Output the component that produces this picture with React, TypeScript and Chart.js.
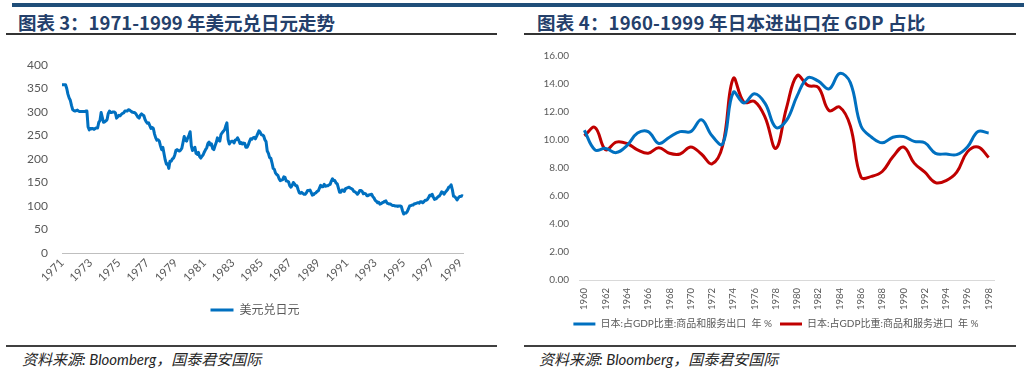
import React, { useEffect, useRef } from 'react';
import { Chart, registerables } from 'chart.js';

Chart.register(...registerables);

// ---------- Chart 3: USD/JPY monthly, Apr 1971 - Jun 1999 ----------
const usdStartYear = 1971;
const usdStartMonth = 4;
const usdJpyMonthly: number[] = [
  358, 358, 358, 358, 350, 338, 330, 325, 314, // 1971 (Apr-Dec)
  305, 303, 302, 303, 304, 302, 301, 301, 301, 301, 301, 302, // 1972
  302, 268, 262, 265, 264, 265, 263, 265, 266, 266, 278, 282, // 1973
  299, 288, 278, 279, 281, 284, 297, 302, 299, 299, 300, 300, // 1974
  298, 287, 290, 293, 292, 295, 297, 298, 302, 302, 302, 305, // 1975
  304, 302, 300, 299, 299, 297, 293, 289, 287, 293, 296, 294, // 1976
  292, 284, 279, 276, 277, 271, 265, 267, 265, 253, 245, 240, // 1977
  241, 238, 228, 220, 225, 211, 198, 189, 190, 180, 195, 195, // 1978
  200, 202, 208, 218, 220, 218, 217, 219, 223, 235, 248, 240, // 1979
  238, 245, 250, 258, 228, 218, 222, 225, 212, 210, 214, 205, // 1980
  202, 206, 209, 215, 220, 224, 233, 236, 230, 232, 222, 220, // 1981
  228, 235, 245, 240, 238, 252, 256, 259, 262, 270, 277, 242, // 1982
  232, 236, 238, 238, 234, 240, 241, 245, 240, 233, 235, 232, // 1983
  234, 233, 225, 225, 230, 237, 243, 242, 245, 246, 243, 248, // 1984
  254, 260, 257, 252, 251, 249, 241, 237, 217, 212, 203, 202, // 1985
  192, 180, 178, 170, 167, 165, 158, 154, 155, 156, 162, 161, // 1986
  153, 153, 151, 143, 140, 144, 150, 147, 143, 143, 135, 128, // 1987
  127, 129, 127, 125, 125, 128, 133, 133, 134, 129, 123, 124, // 1988
  127, 128, 131, 132, 138, 144, 141, 141, 146, 142, 143, 143, // 1989
  145, 146, 153, 158, 154, 154, 149, 147, 138, 129, 129, 134, // 1990
  134, 131, 137, 138, 139, 140, 138, 137, 135, 131, 130, 128, // 1991
  125, 128, 133, 133, 131, 126, 127, 126, 122, 122, 124, 124, // 1992
  125, 120, 117, 112, 110, 107, 108, 104, 105, 107, 108, 110, // 1993
  111, 106, 105, 104, 104, 102, 101, 101, 100, 100, 99, 100, // 1994
  100, 99, 90, 83, 85, 85, 88, 94, 100, 101, 102, 102, // 1995
  105, 105, 106, 107, 106, 109, 109, 107, 109, 112, 112, 114, // 1996
  118, 123, 122, 125, 119, 114, 115, 117, 120, 121, 125, 130, // 1997
  129, 125, 129, 132, 135, 140, 141, 145, 135, 121, 120, 117, // 1998
  113, 117, 120, 120, 122, 121, // 1999 (Jan-Jun)
];
const usdTickYears = ['1971', '1973', '1975', '1977', '1979', '1981', '1983', '1985', '1987', '1989', '1991', '1993', '1995', '1997', '1999'];
const usdYTicks = [0, 50, 100, 150, 200, 250, 300, 350, 400];
const usdSeriesName = '美元兑日元';

// month categories (YYYY-MM), one per value
const usdMonthLabels: string[] = usdJpyMonthly.map((_, i) => {
  const m0 = usdStartMonth - 1 + i;
  const y = usdStartYear + Math.floor(m0 / 12);
  const m = (m0 % 12) + 1;
  return `${y}-${m < 10 ? '0' + m : m}`;
});

// ---------- Chart 4: Japan trade as % of GDP, 1960-1998 ----------
const gdpYears = [
  '1960', '1961', '1962', '1963', '1964', '1965', '1966', '1967', '1968', '1969',
  '1970', '1971', '1972', '1973', '1974', '1975', '1976', '1977', '1978', '1979',
  '1980', '1981', '1982', '1983', '1984', '1985', '1986', '1987', '1988', '1989',
  '1990', '1991', '1992', '1993', '1994', '1995', '1996', '1997', '1998',
];
const exportsPct = [
  10.7, 9.3, 9.4, 9.1, 9.6, 10.5, 10.6, 9.75, 10.2, 10.6,
  10.6, 11.45, 10.3, 9.7, 13.4, 12.65, 13.3, 12.6, 10.9, 11.4,
  13.15, 14.45, 14.2, 13.65, 14.75, 14.1, 11.0, 10.2, 9.8, 10.2,
  10.25, 9.9, 9.8, 9.05, 9.0, 8.95, 9.5, 10.6, 10.5,
];
const importsPct = [
  10.3, 10.9, 9.3, 9.85, 9.75, 9.3, 9.05, 9.45, 9.05, 9.0,
  9.5, 9.0, 8.3, 9.6, 14.4, 12.7, 12.75, 11.6, 9.4, 12.3,
  14.6, 13.9, 13.75, 12.1, 12.35, 11.0, 7.35, 7.4, 7.75, 8.8,
  9.5, 8.35, 7.7, 6.95, 7.1, 7.7, 9.15, 9.5, 8.75,
];
const exportsName = '日本:占GDP比重:商品和服务出口  年 %';
const importsName = '日本:占GDP比重:商品和服务进口  年 %';
const gdpYTicks = [0, 2, 4, 6, 8, 10, 12, 14, 16];

const FONT = "Lato, 'Noto Sans CJK SC', sans-serif";
const TICK_COLOR = '#595959';

// shifts the legend box horizontally after layout
const legendShift = {
  id: 'legendShift',
  afterLayout(chart: any, _args: any, opts: any) {
    const lg = chart.legend;
    if (lg && opts && opts.dx) {
      lg.left += opts.dx;
      lg.right += opts.dx;
    }
  },
};

function UsdJpyChart() {
  const ref = useRef<HTMLCanvasElement | null>(null);
  useEffect(() => {
    if (!ref.current) return;
    const chart = new Chart(ref.current, {
      type: 'line',
      data: {
        labels: usdMonthLabels,
        datasets: [
          {
            label: usdSeriesName,
            data: usdJpyMonthly,
            borderColor: '#0070C0',
            backgroundColor: '#0070C0',
            borderWidth: 3,
            pointRadius: 0,
            tension: 0,
            fill: false,
            borderJoinStyle: 'round',
          },
        ],
      },
      plugins: [legendShift],
      options: {
        animation: false,
        responsive: false,
        maintainAspectRatio: false,
        layout: { padding: { left: 0, right: 37, top: 25, bottom: 4 } },
        plugins: {
          tooltip: { enabled: false },
          legendShift: { dx: 23.5 },
          legend: {
            position: 'bottom',
            labels: {
              usePointStyle: true,
              pointStyle: 'line',
              pointStyleWidth: 23,
              font: { family: FONT, size: 12 },
              color: TICK_COLOR,
              padding: 10,
            },
          },
        },
        scales: {
          x: {
            type: 'category',
            offset: false,
            grid: { display: false, drawTicks: false },
            border: { display: true, color: '#bfbfbf', width: 1 },
            ticks: {
              autoSkip: false,
              minRotation: 45,
              maxRotation: 45,
              padding: 3,
              font: { family: FONT, size: 11.5 },
              color: TICK_COLOR,
              callback: (_v: any, i: number) => {
                const lbl = usdMonthLabels[i];
                const [y, m] = lbl.split('-');
                return m === '04' && usdTickYears.includes(y) ? y : null;
              },
            },
            afterFit: (s: any) => {
              s.height = 41;
            },
          },
          y: {
            min: usdYTicks[0],
            max: usdYTicks[usdYTicks.length - 1],
            grid: { display: false, drawTicks: false },
            border: { display: false },
            ticks: {
              stepSize: 50,
              padding: 14,
              font: { family: FONT, size: 12 },
              color: TICK_COLOR,
            },
            afterFit: (s: any) => {
              s.width = 62;
            },
          },
        },
      },
    } as any);
    return () => chart.destroy();
  }, []);
  return (
    <canvas
      ref={ref}
      width={500}
      height={290}
      style={{ position: 'absolute', left: 0, top: 40, width: 500, height: 290 }}
    />
  );
}

function TradeChart() {
  const ref = useRef<HTMLCanvasElement | null>(null);
  useEffect(() => {
    if (!ref.current) return;
    const chart = new Chart(ref.current, {
      type: 'line',
      data: {
        labels: gdpYears,
        datasets: [
          {
            label: exportsName,
            data: exportsPct,
            borderColor: '#0070C0',
            backgroundColor: '#0070C0',
            borderWidth: 3,
            pointRadius: 0,
            tension: 0.4,
            fill: false,
          },
          {
            label: importsName,
            data: importsPct,
            borderColor: '#C00000',
            backgroundColor: '#C00000',
            borderWidth: 3,
            pointRadius: 0,
            tension: 0.4,
            fill: false,
          },
        ],
      },
      plugins: [legendShift],
      options: {
        animation: false,
        responsive: false,
        maintainAspectRatio: false,
        layout: { padding: { left: 0, right: 30, top: 13, bottom: 1 } },
        plugins: {
          tooltip: { enabled: false },
          legendShift: { dx: 23 },
          legend: {
            position: 'bottom',
            labels: {
              usePointStyle: true,
              pointStyle: 'line',
              pointStyleWidth: 22,
              font: { family: FONT, size: 10 },
              color: TICK_COLOR,
              padding: 8,
            },
          },
        },
        scales: {
          x: {
            type: 'category',
            offset: true,
            grid: { display: false, drawTicks: false },
            border: { display: true, color: '#d9d9d9', width: 1 },
            ticks: {
              autoSkip: false,
              minRotation: 90,
              maxRotation: 90,
              padding: 8,
              font: { family: FONT, size: 9.5 },
              color: TICK_COLOR,
              callback: (_v: any, i: number) => (i % 2 === 0 ? gdpYears[i] : null),
            },
            afterFit: (s: any) => {
              s.height = 31;
            },
          },
          y: {
            min: gdpYTicks[0],
            max: gdpYTicks[gdpYTicks.length - 1],
            grid: { display: false, drawTicks: false },
            border: { display: false },
            ticks: {
              stepSize: 2,
              padding: 10,
              font: { family: FONT, size: 10 },
              color: TICK_COLOR,
              callback: (v: any) => Number(v).toFixed(2),
            },
            afterFit: (s: any) => {
              s.width = 67;
            },
          },
        },
      },
    } as any);
    return () => chart.destroy();
  }, []);
  return (
    <canvas
      ref={ref}
      width={512}
      height={300}
      style={{ position: 'absolute', left: 512, top: 40, width: 512, height: 300 }}
    />
  );
}

const titleStyle: React.CSSProperties = {
  position: 'absolute',
  top: 11,
  fontFamily: "'Noto Sans CJK SC', sans-serif",
  fontWeight: 700,
  fontSize: 18.5,
  lineHeight: '22px',
  color: '#24406b',
  whiteSpace: 'nowrap',
};
const sourceStyle: React.CSSProperties = {
  position: 'absolute',
  top: 350,
  fontFamily: "Lato, 'Noto Sans CJK SC', sans-serif",
  fontStyle: 'italic',
  fontSize: 15,
  lineHeight: '18px',
  color: '#262626',
  whiteSpace: 'nowrap',
};
const rule = (left: number, top: number, width: number, height: number, color: string): React.CSSProperties => ({
  position: 'absolute',
  left,
  top,
  width,
  height,
  background: color,
});

export default function App() {
  return (
    <div
      style={{
        position: 'fixed',
        left: 0,
        top: 0,
        width: 1024,
        height: 373,
        background: '#ffffff',
        overflow: 'hidden',
      }}
    >
      <div style={rule(12, 3, 1012, 4, '#1f4e79')} />
      <div style={{ ...titleStyle, left: 18 }}>图表 3：1971-1999 年美元兑日元走势</div>
      <div style={{ ...titleStyle, left: 537, letterSpacing: '0.2px' }}>
        图表 4：1960-1999 年日本进出口在 GDP 占比
      </div>
      <div style={rule(6, 33, 491, 2, '#333333')} />
      <div style={rule(524, 33, 492, 2, '#333333')} />
      <UsdJpyChart />
      <TradeChart />
      <div style={rule(6, 345, 491, 2, '#404040')} />
      <div style={rule(524, 345, 492, 2, '#404040')} />
      <div style={{ ...sourceStyle, left: 22 }}>资料来源: Bloomberg，国泰君安国际</div>
      <div style={{ ...sourceStyle, left: 539 }}>资料来源: Bloomberg，国泰君安国际</div>
    </div>
  );
}
